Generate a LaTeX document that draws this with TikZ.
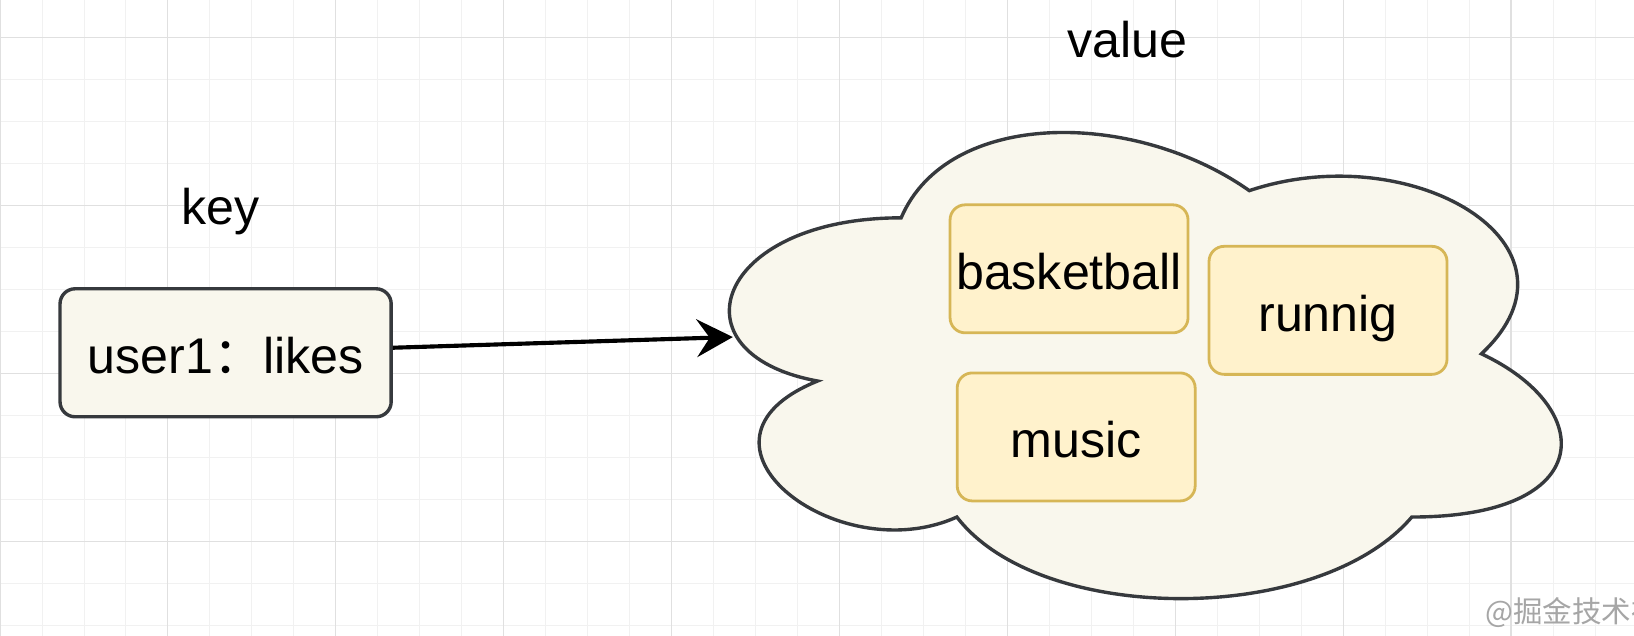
\documentclass[tikz,border=0pt]{standalone}
\usepackage{fontspec}
\setmainfont{Liberation Sans}
\newfontfamily\cjk{Noto Sans CJK SC}
\usetikzlibrary{arrows.meta}

\definecolor{gridminor}{HTML}{F1F1F1}
\definecolor{gridmajor}{HTML}{E0E0E0}
\definecolor{notefill}{HTML}{F9F7ED}
\definecolor{notedraw}{HTML}{36393D}
\definecolor{itemfill}{HTML}{FFF2CC}
\definecolor{itemdraw}{HTML}{D6B656}

\begin{document}
\begin{tikzpicture}[
    keybox/.style={rectangle, rounded corners=0.36cm, draw=notedraw, fill=notefill, line width=2.3pt,
                   minimum width=7.89cm, minimum height=3.05cm, inner sep=0pt,
                   text height=1cm, text depth=0pt, font=\fontsize{34}{40}\selectfont},
    itembox/.style={rectangle, rounded corners=0.36cm, draw=itemdraw, fill=itemfill, line width=1.9pt,
                    minimum width=5.67cm, minimum height=3.05cm, inner sep=0pt,
                    text height=1cm, text depth=0pt, font=\fontsize{34}{40}\selectfont},
    lbl/.style={anchor=base, inner sep=0pt, font=\fontsize{34}{40}\selectfont},
    link/.style={line width=2.8pt, -{Stealth[length=0.86cm, width=0.9cm, inset=0.31cm]}}
]

% ---- frame and grid ----
\useasboundingbox (0,0) rectangle (38.93,15.15);
\clip (0,0) rectangle (38.93,15.15);
\fill[white] (0,0) rectangle (38.93,15.15);
\draw[gridminor, line width=0.6pt, shift={(0,0.248)}] (0,-1) grid (39,15);
\draw[gridmajor, line width=0.8pt, shift={(0,2.248)}, step=4] (0,-4) grid (40,16);

% ---- cloud (value) ----
\begin{scope}[shift={(15.94,13.20)}, xscale=22.12, yscale=-12.96]
\draw[draw=notedraw, fill=notefill, line width=2.3pt]
  (0.25,0.25) .. controls (0.05,0.25) and (0,0.5) .. (0.16,0.55)
  .. controls (0,0.66) and (0.18,0.9) .. (0.31,0.8)
  .. controls (0.4,1) and (0.7,1) .. (0.8,0.8)
  .. controls (1,0.8) and (1,0.6) .. (0.875,0.5)
  .. controls (1,0.3) and (0.8,0.1) .. (0.625,0.2)
  .. controls (0.5,0.05) and (0.3,0.05) .. (0.25,0.25) -- cycle;
\end{scope}
\coordinate (cloudin) at (17.46,7.12);

% ---- nodes ----
\node[lbl] (keylbl) at (5.25,9.79) {key};
\node[lbl] (valuelbl) at (26.86,13.77) {value};

\node[keybox] (userkey) at (5.375,6.745) {user1{\cjk ：}likes};

\node[itembox] (basketball) at (25.47,8.745) {basketball};
\node[itembox] (runnig) at (31.64,7.756) {runnig};
\node[itembox] (music) at (25.64,4.74) {music};

\node[anchor=west, inner sep=0pt, text=black!35, font=\cjk\fontsize{20}{24}\selectfont] (mark) at (35.38,0.55) {@掘金技术社区};

% ---- edges ----
\draw[link] ([yshift=0.12cm]userkey.east) -- (cloudin);

\end{tikzpicture}
\end{document}
